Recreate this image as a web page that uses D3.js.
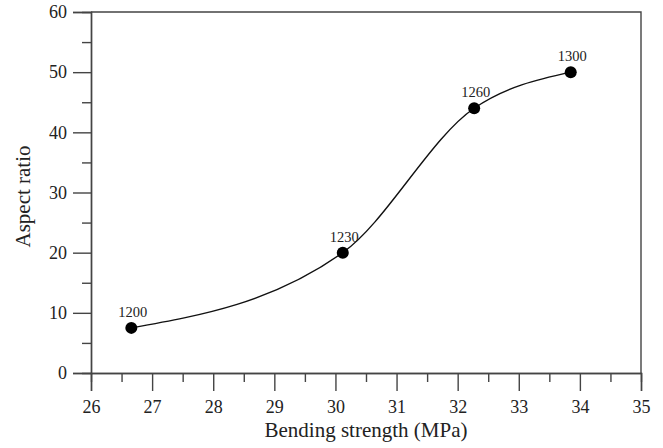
<!DOCTYPE html>
<html>
<head>
<meta charset="utf-8">
<script src="https://cdn.jsdelivr.net/npm/d3@7"></script>
<style>
  body { margin: 0; background: #fff; }
  svg text { font-family: "Liberation Serif", "Times New Roman", serif; fill: #222; }
</style>
</head>
<body>
<svg width="663" height="448"></svg>
<script>
// data
const strength = [26.66, 30.12, 32.27, 33.85]
const aspect = [7.5, 20, 44, 50]
const temps = ['1200', '1230', '1260', '1300']
const xTicks = [26, 27, 28, 29, 30, 31, 32, 33, 34, 35]
const yTicks = [0, 10, 20, 30, 40, 50, 60]

const svg = d3.select('svg')
const m = {left: 91, right: 22, top: 12, bottom: 75}
const width = 663 - m.left - m.right
const height = 448 - m.top - m.bottom
const g = svg.append('g').attr('transform', `translate(${m.left},${m.top})`)

const x = d3.scaleLinear().domain([26, 35]).range([0, width])
const y = d3.scaleLinear().domain([0, 60]).range([height, 0])
const axisColor = '#444'

// frame
g.append('path')
  .attr('d', `M0,0H${width}V${height}`)
  .attr('fill', 'none').attr('stroke', axisColor).attr('stroke-width', 1.4)

// minor ticks
const xMinor = d3.range(26.5, 35, 1)
const yMinor = d3.range(5, 60, 10)
const xAxisMinor = g.append('g').attr('transform', `translate(0,${height})`)
  .call(d3.axisBottom(x).tickValues(xMinor).tickSize(9).tickFormat(''))
const yAxisMinor = g.append('g')
  .call(d3.axisLeft(y).tickValues(yMinor).tickSize(9).tickFormat(''))

const xAxis = g.append('g').attr('transform', `translate(0,${height})`)
  .call(d3.axisBottom(x).tickValues(xTicks).tickSize(18).tickPadding(9).tickFormat(d3.format('d')))
const yAxis = g.append('g')
  .call(d3.axisLeft(y).tickValues(yTicks).tickSize(18).tickPadding(6).tickFormat(d3.format('d')))

for (const a of [xAxisMinor, yAxisMinor, xAxis, yAxis]) {
  a.attr('font-size', 18).attr('font-family', '"Liberation Serif", serif')
  a.select('.domain').attr('stroke', axisColor).attr('stroke-width', 1.4)
  a.selectAll('.tick line').attr('stroke', axisColor).attr('stroke-width', 1.4)
  a.selectAll('text').attr('fill', '#222')
}

// titles
svg.append('text')
  .attr('x', m.left + width / 2).attr('y', 437)
  .attr('text-anchor', 'middle').attr('font-size', 21)
  .text('Bending strength (MPa)')
svg.append('text')
  .attr('transform', `translate(30,${m.top + height / 2 + 4}) rotate(-90)`)
  .attr('text-anchor', 'middle').attr('font-size', 21)
  .text('Aspect ratio')

const pts = strength.map((s, i) => ({s, a: aspect[i], t: temps[i]}))

// smooth curve through the points
g.append('path')
  .datum(pts)
  .attr('fill', 'none').attr('stroke', '#111').attr('stroke-width', 1.4)
  .attr('d', d3.line().x(d => x(d.s)).y(d => y(d.a)).curve(d3.curveMonotoneX))

g.selectAll('circle').data(pts).join('circle')
  .attr('cx', d => x(d.s)).attr('cy', d => y(d.a)).attr('r', 6)
  .attr('fill', '#000')

g.selectAll('.lbl').data(pts).join('text')
  .attr('class', 'lbl')
  .attr('x', d => x(d.s) + 1.5).attr('y', d => y(d.a) - 11)
  .attr('text-anchor', 'middle').attr('font-size', 14.5)
  .text(d => d.t)
</script>
</body>
</html>
